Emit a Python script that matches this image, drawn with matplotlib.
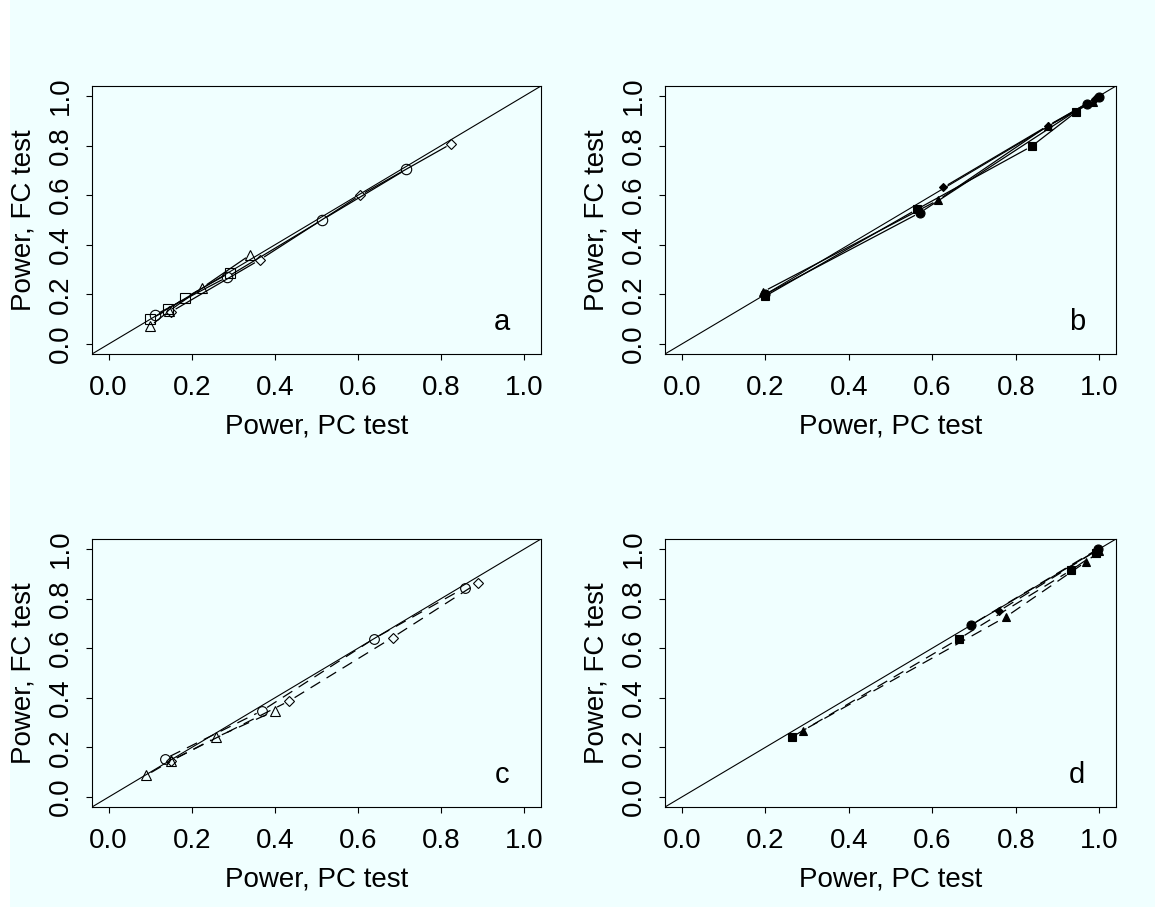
import numpy as np
import matplotlib
matplotlib.use("Agg")
import matplotlib.pyplot as plt
from matplotlib.patches import Rectangle

# ---- data (PC power -> FC power) ----
# panel a: hollow markers, solid lines
a_circ_x = [0.111, 0.284, 0.513, 0.716]
a_circ_y = [0.117, 0.269, 0.500, 0.704]
a_diam_x = [0.150, 0.363, 0.605, 0.824]
a_diam_y = [0.130, 0.339, 0.600, 0.807]
a_squa_x = [0.100, 0.144, 0.184, 0.291]
a_squa_y = [0.100, 0.140, 0.187, 0.287]
a_tria_x = [0.099, 0.145, 0.225, 0.341]
a_tria_y = [0.071, 0.133, 0.227, 0.360]

# panel b: filled markers, solid lines
b_squa_x = [0.200, 0.563, 0.838, 0.945]
b_squa_y = [0.193, 0.543, 0.797, 0.936]
b_tria_x = [0.195, 0.614, 0.877, 0.985]
b_tria_y = [0.211, 0.580, 0.880, 0.975]
b_circ_x = [0.200, 0.570, 0.971, 1.000]
b_circ_y = [0.200, 0.529, 0.969, 0.997]
b_diam_x = [0.626, 0.877, 0.990]
b_diam_y = [0.631, 0.880, 0.988]

# panel c: hollow markers, dashed lines
c_circ_x = [0.135, 0.369, 0.639, 0.856]
c_circ_y = [0.154, 0.348, 0.639, 0.843]
c_tria_x = [0.090, 0.151, 0.259, 0.401]
c_tria_y = [0.087, 0.147, 0.241, 0.348]
c_diam_x = [0.151, 0.435, 0.683, 0.888]
c_diam_y = [0.147, 0.388, 0.643, 0.863]

# panel d: filled markers, dashed lines
d_squa_x = [0.263, 0.665, 0.932, 0.993]
d_squa_y = [0.241, 0.639, 0.914, 0.983]
d_tria_x = [0.290, 0.777, 0.968, 1.000]
d_tria_y = [0.268, 0.727, 0.948, 0.990]
d_circ_x = [0.692, 0.997]
d_circ_y = [0.693, 1.000]
d_diam_x = [0.759, 0.995]
d_diam_y = [0.749, 0.995]

ticks = [0.0, 0.2, 0.4, 0.6, 0.8, 1.0]
tick_labels = ["0.0", "0.2", "0.4", "0.6", "0.8", "1.0"]
panel_letters = ["a", "b", "c", "d"]

BG = "#f0ffff"
W, H = 1155, 907

plt.rcParams["font.family"] = ["Liberation Sans", "DejaVu Sans"]

fig = plt.figure(figsize=(W / 100, H / 100), dpi=100)
fig.patch.set_facecolor("white")
fig.patches.append(Rectangle((10 / W, 0), 1, 1, transform=fig.transFigure,
                             facecolor=BG, edgecolor="none", zorder=-10))

# axes boxes in pixels: left, top, right, bottom
boxes = [(92, 86, 541, 354), (665, 86, 1116, 354),
         (92, 539, 541, 807), (665, 539, 1116, 807)]


def gapped(ax, xs, ys, gap, **kw):
    # R type="b": lines stop short of the points
    pts = ax.transData.transform(np.column_stack([xs, ys]))
    inv = ax.transData.inverted()
    for p, q in zip(pts[:-1], pts[1:]):
        d = q - p
        L = np.hypot(*d)
        if L <= 2 * gap:
            continue
        u = d / L
        seg = inv.transform([p + u * gap, q - u * gap])
        ax.plot(seg[:, 0], seg[:, 1], color="black", lw=0.9, **kw)


def series(ax, xs, ys, marker, filled, dashed, ms):
    style = (0, (9, 6)) if dashed else "-"
    gapped(ax, xs, ys, 6, linestyle=style)
    if filled:
        ax.plot(xs, ys, linestyle="none", marker=marker, ms=ms,
                mfc="black", mec="black", mew=0.8)
    else:
        ax.plot(xs, ys, linestyle="none", marker=marker, ms=ms,
                mfc="none", mec="black", mew=0.8)


axes = []
for i, (l, t, r, b) in enumerate(boxes):
    ax = fig.add_axes([l / W, 1 - b / H, (r - l) / W, (b - t) / H])
    ax.set_facecolor(BG)
    ax.set_xlim(-0.04, 1.04)
    ax.set_ylim(-0.04, 1.04)
    ax.set_xticks(ticks)
    ax.set_xticklabels(tick_labels)
    ax.set_yticks(ticks)
    ax.set_yticklabels(tick_labels, rotation=90, va="center")
    ax.tick_params(direction="out", length=4, width=0.8, labelsize=20)
    ax.tick_params(axis="x", pad=11)
    ax.tick_params(axis="y", pad=9)
    for s in ax.spines.values():
        s.set_linewidth(0.8)
    ax.set_xlabel("Power, PC test", fontsize=20, labelpad=9)
    ax.set_ylabel("Power, FC test", fontsize=20, labelpad=8)
    ax.axline((0, 0), slope=1, color="black", lw=0.8)
    ax.text(0.947, 0.09, panel_letters[i], fontsize=21, ha="center", va="center")
    axes.append(ax)

ax_a, ax_b, ax_c, ax_d = axes

series(ax_a, a_circ_x, a_circ_y, "o", False, False, 7.5)
series(ax_a, a_diam_x, a_diam_y, "D", False, False, 5.5)
series(ax_a, a_squa_x, a_squa_y, "s", False, False, 7)
series(ax_a, a_tria_x, a_tria_y, "^", False, False, 7.5)

series(ax_b, b_squa_x, b_squa_y, "s", True, False, 6)
series(ax_b, b_tria_x, b_tria_y, "^", True, False, 6)
series(ax_b, b_circ_x, b_circ_y, "o", True, False, 6.5)
series(ax_b, b_diam_x, b_diam_y, "D", True, False, 4.5)

series(ax_c, c_circ_x, c_circ_y, "o", False, True, 7)
series(ax_c, c_tria_x, c_tria_y, "^", False, True, 7)
series(ax_c, c_diam_x, c_diam_y, "D", False, True, 5)

series(ax_d, d_squa_x, d_squa_y, "s", True, True, 6)
series(ax_d, d_tria_x, d_tria_y, "^", True, True, 6)
series(ax_d, d_circ_x, d_circ_y, "o", True, True, 6.5)
series(ax_d, d_diam_x, d_diam_y, "D", True, True, 4.5)

fig.savefig("out.png", dpi=100, facecolor=fig.get_facecolor())
